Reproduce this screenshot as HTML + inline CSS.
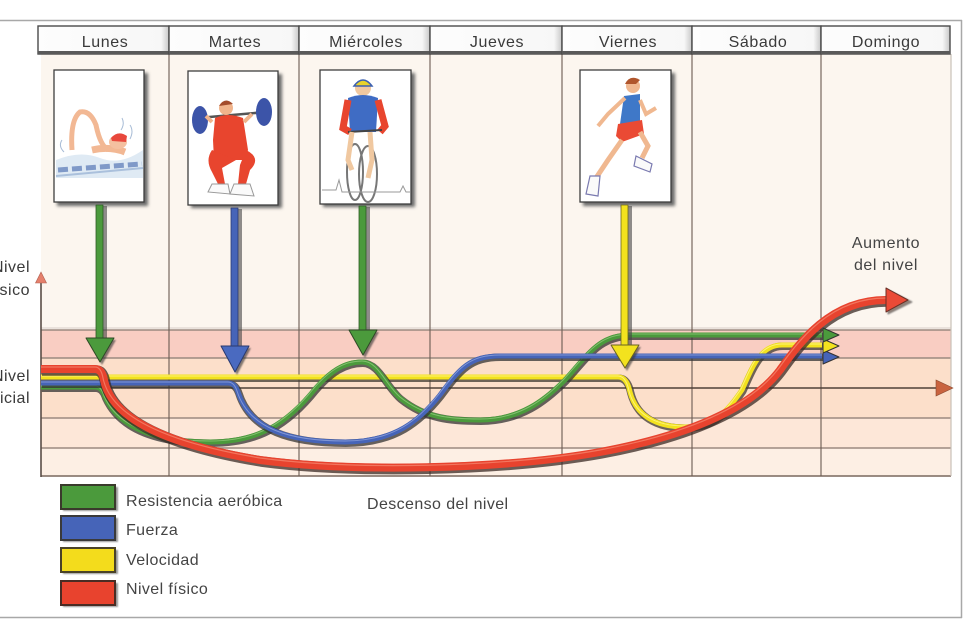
<!DOCTYPE html>
<html><head><meta charset="utf-8"><style>
html,body{margin:0;padding:0;background:#fff;}
svg{display:block;}
text{font-family:"Liberation Sans",sans-serif;}
</style></head><body>
<svg width="976" height="624" viewBox="0 0 976 624" xmlns="http://www.w3.org/2000/svg">
<defs>
<linearGradient id="hdr" x1="0" y1="0" x2="1" y2="0">
<stop offset="0" stop-color="#fdfdfd"/><stop offset="0.94" stop-color="#f7f7f7"/><stop offset="1" stop-color="#c8c8c8"/>
</linearGradient>
<filter id="blur" x="-20%" y="-20%" width="140%" height="140%"><feGaussianBlur stdDeviation="1.6"/></filter>
<filter id="blur1" x="-20%" y="-20%" width="140%" height="140%"><feGaussianBlur stdDeviation="0.8"/></filter>
</defs>

<!-- outer frame -->
<line x1="0" y1="20.5" x2="962" y2="20.5" stroke="#a8a8a8" stroke-width="1.5"/>
<line x1="961.5" y1="20" x2="961.5" y2="618" stroke="#a8a8a8" stroke-width="1.5"/>
<line x1="0" y1="617.5" x2="962" y2="617.5" stroke="#a8a8a8" stroke-width="1.5"/>

<!-- grid background -->
<rect x="41" y="54" width="910" height="276" fill="#fcf6ef"/>
<rect x="41" y="330" width="910" height="28" fill="#f9cdc2"/>
<rect x="41" y="358" width="910" height="60" fill="#fcdfca"/>
<rect x="41" y="418" width="910" height="30" fill="#fde7d8"/>
<rect x="41" y="448" width="910" height="28" fill="#fdefe4"/>

<!-- horizontal band lines -->
<g stroke="#9b8a80" stroke-width="1.4">
<line x1="41" y1="330" x2="951" y2="330"/>
<line x1="41" y1="358" x2="951" y2="358"/>
<line x1="41" y1="418" x2="951" y2="418"/>
<line x1="41" y1="448" x2="951" y2="448"/>
<line x1="41" y1="476" x2="951" y2="476" stroke="#8c7c72" stroke-width="1.8"/>
</g>
<line x1="41" y1="328" x2="951" y2="328" stroke="#d9cfc8" stroke-width="1"/>

<!-- vertical grid lines -->
<g stroke="#6b5b52" stroke-width="1.1">
<line x1="169" y1="54" x2="169" y2="476"/>
<line x1="299" y1="54" x2="299" y2="476"/>
<line x1="430" y1="54" x2="430" y2="476"/>
<line x1="562" y1="54" x2="562" y2="476"/>
<line x1="692" y1="54" x2="692" y2="476"/>
<line x1="821" y1="54" x2="821" y2="476"/>
</g>
<line x1="951" y1="54" x2="951" y2="476" stroke="#c9c0b8" stroke-width="1.2"/>

<!-- axes -->
<line x1="41" y1="280" x2="41" y2="477" stroke="#5a4d46" stroke-width="1.6"/>
<polygon points="41,272 35.5,283 46.5,283" fill="#e5806c" stroke="#b06050" stroke-width="0.6"/>
<line x1="41" y1="388" x2="938" y2="388" stroke="#4e4038" stroke-width="1.6"/>
<polygon points="953,388 936,380 936,396" fill="#c9633f" stroke="#8a4a30" stroke-width="0.6"/>

<!-- header cells -->
<g>
<g transform="translate(38,26)"><rect width="131" height="28" fill="url(#hdr)" stroke="#4a4a4a" stroke-width="1.4"/><rect y="25" width="131" height="3" fill="#5a5a5a"/></g>
<g transform="translate(169,26)"><rect width="130" height="28" fill="url(#hdr)" stroke="#4a4a4a" stroke-width="1.4"/><rect y="25" width="130" height="3" fill="#5a5a5a"/></g>
<g transform="translate(299,26)"><rect width="131" height="28" fill="url(#hdr)" stroke="#4a4a4a" stroke-width="1.4"/><rect y="25" width="131" height="3" fill="#5a5a5a"/></g>
<g transform="translate(430,26)"><rect width="132" height="28" fill="url(#hdr)" stroke="#4a4a4a" stroke-width="1.4"/><rect y="25" width="132" height="3" fill="#5a5a5a"/></g>
<g transform="translate(562,26)"><rect width="130" height="28" fill="url(#hdr)" stroke="#4a4a4a" stroke-width="1.4"/><rect y="25" width="130" height="3" fill="#5a5a5a"/></g>
<g transform="translate(692,26)"><rect width="129" height="28" fill="url(#hdr)" stroke="#4a4a4a" stroke-width="1.4"/><rect y="25" width="129" height="3" fill="#5a5a5a"/></g>
<g transform="translate(821,26)"><rect width="129" height="28" fill="url(#hdr)" stroke="#4a4a4a" stroke-width="1.4"/><rect y="25" width="129" height="3" fill="#5a5a5a"/></g>
</g>
<g font-size="16" fill="#3a3a3a" text-anchor="middle" letter-spacing="0.6">
<text x="105" y="47">Lunes</text>
<text x="235" y="47">Martes</text>
<text x="366" y="47">Miércoles</text>
<text x="497" y="47">Jueves</text>
<text x="628" y="47">Viernes</text>
<text x="758" y="47">Sábado</text>
<text x="886" y="47">Domingo</text>
</g>

<!-- cards -->
<g>
<rect x="57" y="73" width="91" height="133" fill="#6a6a6a" filter="url(#blur)"/>
<rect x="54" y="70" width="90" height="132" fill="#fff" stroke="#3e3e3e" stroke-width="1.3"/>
<rect x="191" y="74" width="91" height="134" fill="#6a6a6a" filter="url(#blur)"/>
<rect x="188" y="71" width="90" height="134" fill="#fff" stroke="#3e3e3e" stroke-width="1.3"/>
<rect x="323" y="73" width="92" height="134" fill="#6a6a6a" filter="url(#blur)"/>
<rect x="320" y="70" width="91" height="134" fill="#fff" stroke="#3e3e3e" stroke-width="1.3"/>
<rect x="583" y="73" width="92" height="133" fill="#6a6a6a" filter="url(#blur)"/>
<rect x="580" y="70" width="91" height="132" fill="#fff" stroke="#3e3e3e" stroke-width="1.3"/>
</g>

<!-- swimmer -->
<g>
<path d="M56,160 Q80,150 100,158 T143,150 L143,178 L56,178 Z" fill="#dfeaf4"/>
<path d="M58,170 L142,164" stroke="#7f99c8" stroke-width="5" stroke-dasharray="10,4"/>
<path d="M56,176 Q100,172 143,168" stroke="#aac0dc" stroke-width="2" fill="none"/>
<path d="M72,150 Q70,120 80,112 Q90,110 96,125 Q100,145 108,150" stroke="#f2b894" stroke-width="5" fill="none"/>
<path d="M92,150 Q110,146 125,152" stroke="#f2b894" stroke-width="7" fill="none"/>
<ellipse cx="118" cy="142" rx="9" ry="7" fill="#f4c0a0"/>
<path d="M111,138 Q118,130 127,136 L126,142 L112,141 Z" fill="#e8483c"/>
<g fill="none" stroke="#a8bcd6" stroke-width="1"><path d="M122,118 q3,6 -1,12"/><path d="M130,125 q4,6 0,14"/><path d="M62,140 q-4,6 2,12"/></g>
</g>

<!-- weightlifter -->
<g>
<line x1="198" y1="118" x2="266" y2="112" stroke="#555" stroke-width="2.5"/>
<ellipse cx="200" cy="120" rx="8" ry="14" fill="#3c54a8"/>
<ellipse cx="264" cy="112" rx="8" ry="14" fill="#3c54a8"/>
<circle cx="226" cy="108" r="7" fill="#f0b48c"/>
<path d="M219,106 Q225,96 233,104" fill="#a34c2c"/>
<path d="M215,118 Q228,112 243,118 L248,150 L245,160 L214,160 L213,140 Z" fill="#e8452e"/>
<path d="M212,150 Q205,160 212,172 L218,184 L225,184 L222,168 L236,160" fill="#e8452e"/>
<path d="M246,150 Q262,158 250,170 L246,184 L238,184 L240,165" fill="#e8452e"/>
<path d="M212,184 L228,184 L230,194 L208,192 Z" fill="#fafafa" stroke="#999" stroke-width="1"/>
<path d="M234,184 L250,184 L254,196 L230,194 Z" fill="#fafafa" stroke="#999" stroke-width="1"/>
<path d="M212,122 L206,116" stroke="#f0b48c" stroke-width="4"/>
<path d="M244,122 L252,114" stroke="#f0b48c" stroke-width="4"/>
</g>

<!-- cyclist -->
<g>
<ellipse cx="355" cy="172" rx="8" ry="28" fill="none" stroke="#777" stroke-width="2"/>
<ellipse cx="368" cy="174" rx="9" ry="28" fill="none" stroke="#777" stroke-width="2"/>
<path d="M322,190 L336,190 L339,180 L342,192 L400,192 L403,186 L406,192 L410,192" fill="none" stroke="#999" stroke-width="1"/>
<circle cx="363" cy="88" r="8" fill="#f0c8a0"/>
<path d="M354,86 Q363,74 372,86 Z" fill="#e8d22a" stroke="#3c60b0" stroke-width="1.5"/>
<path d="M348,98 Q363,92 378,98 L376,132 L350,132 Z" fill="#3f6cc4"/>
<path d="M348,100 L343,128 L350,132" fill="none" stroke="#e8452e" stroke-width="7"/>
<path d="M378,100 L385,126 L380,132" fill="none" stroke="#e8452e" stroke-width="7"/>
<line x1="348" y1="132" x2="382" y2="130" stroke="#444" stroke-width="2"/>
<path d="M352,132 L348,160 L352,170" stroke="#f0c8a0" stroke-width="5" fill="none"/>
<path d="M370,132 L372,160 L368,178" stroke="#f0c8a0" stroke-width="5" fill="none"/>
</g>

<!-- runner -->
<g>
<circle cx="633" cy="86" r="7" fill="#f0b890"/>
<path d="M625,84 Q630,74 640,80 L636,84 Z" fill="#b0562c"/>
<path d="M624,96 L640,94 L640,122 L620,124 Z" fill="#3f78c8"/>
<path d="M618,124 L642,120 L644,134 L622,142 L616,136 Z" fill="#ea4a34"/>
<path d="M625,98 L608,114 L598,126" stroke="#f0b890" stroke-width="4" fill="none"/>
<path d="M640,100 L646,114 L656,108" stroke="#f0b890" stroke-width="4" fill="none"/>
<path d="M640,132 L648,146 L642,158" stroke="#f0b890" stroke-width="5" fill="none"/>
<path d="M622,140 L608,160 L596,178" stroke="#f0b890" stroke-width="5" fill="none"/>
<path d="M636,156 L652,164 L650,172 L634,166 Z" fill="#fafafa" stroke="#7a7ab0" stroke-width="1.2"/>
<path d="M590,176 L600,176 L598,196 L586,194 Z" fill="#fafafa" stroke="#7a7ab0" stroke-width="1.2"/>
</g>

<!-- curves -->
<g fill="none" stroke-linecap="butt" stroke-linejoin="round">
<!-- yellow -->
<path d="M41,377 L618,377 Q627,377 630,392 C636,415 655,427 685,427 C715,427 728,410 742,390 C752,368 760,345 782,345 L822,345" stroke="#3f3a30" stroke-width="7.5" stroke-opacity="0.75" transform="translate(0.8,1.2)"/>
<path d="M41,377 L618,377 Q627,377 630,392 C636,415 655,427 685,427 C715,427 728,410 742,390 C752,368 760,345 782,345 L822,345" stroke="#f3e21e" stroke-width="5"/>
<path d="M41,376 L618,376 Q626,376 629,391 C635,414 655,426 685,426 C715,426 727,409 741,389 C751,367 759,344 782,344 L822,344" stroke="#fff8a0" stroke-width="1" stroke-opacity="0.7"/>
<!-- green -->
<path d="M41,387 L95,387 Q102,387 105,397 C120,430 160,442 210,442 C250,442 280,430 310,395 C330,370 345,362 362,362 C378,362 385,385 400,398 C425,418 450,420 480,420 C520,420 545,400 565,380 C590,352 600,335 630,335 L822,335" stroke="#333" stroke-width="7.5" stroke-opacity="0.75" transform="translate(0.8,1.2)"/>
<path d="M41,387 L95,387 Q102,387 105,397 C120,430 160,442 210,442 C250,442 280,430 310,395 C330,370 345,362 362,362 C378,362 385,385 400,398 C425,418 450,420 480,420 C520,420 545,400 565,380 C590,352 600,335 630,335 L822,335" stroke="#4b9a3c" stroke-width="5"/>
<path d="M41,386 L95,386 Q101,386 104,396 C119,429 160,441 210,441 C250,441 279,429 309,394 C329,369 345,361 362,361 C378,361 385,384 400,397 C425,417 450,419 480,419 C520,419 545,399 564,379 C589,351 600,334 630,334 L822,334" stroke="#a6d890" stroke-width="1" stroke-opacity="0.6"/>
<!-- blue -->
<path d="M41,383 L228,383 Q235,383 238,392 C250,430 290,442 345,442 C395,442 420,420 440,395 C460,368 470,356 500,356 L822,356" stroke="#333" stroke-width="7.5" stroke-opacity="0.75" transform="translate(0.8,1.2)"/>
<path d="M41,383 L228,383 Q235,383 238,392 C250,430 290,442 345,442 C395,442 420,420 440,395 C460,368 470,356 500,356 L822,356" stroke="#4664b8" stroke-width="5"/>
<path d="M41,382 L228,382 Q234,382 237,391 C249,429 290,441 345,441 C395,441 419,419 439,394 C459,367 470,355 500,355 L822,355" stroke="#a8b8e8" stroke-width="1" stroke-opacity="0.6"/>
<!-- red -->
<path d="M41,369 L95,369 Q102,369 104,380 C112,420 170,445 260,460 C350,472 500,470 600,452 C680,437 748,412 780,370 C800,342 830,300 886,300" stroke="#3a2a24" stroke-width="10.5" stroke-opacity="0.75" transform="translate(1,1.5)"/>
<path d="M41,369 L95,369 Q102,369 104,380 C112,420 170,445 260,460 C350,472 500,470 600,452 C680,437 748,412 780,370 C800,342 830,300 886,300" stroke="#e8432e" stroke-width="8"/>
<path d="M41,367 L95,367 Q101,367 103,378 C111,418 170,443 260,458 C350,470 500,468 600,450 C680,435 747,410 779,368 C799,340 830,298 886,298" stroke="#f89a80" stroke-width="1.2" stroke-opacity="0.6"/>
</g>

<!-- curve arrowheads -->
<g stroke="#333" stroke-width="1" stroke-linejoin="round">
<polygon points="823,350 839,357 823,364" fill="#4664b8"/>
<polygon points="823,339 839,346 823,353" fill="#f3e21e"/>
<polygon points="823,328 839,335 823,342" fill="#4b9a3c"/>
<polygon points="888,290 888,314 912,302" fill="#4a3028" opacity="0.6" filter="url(#blur1)"/>
<polygon points="886,288 886,312 908,300" fill="#ea4a36" stroke="#6a3026"/>
</g>

<!-- vertical arrows -->
<g stroke-linejoin="round">
<rect x="99" y="206" width="8" height="134" fill="#444" opacity="0.6"/>
<polygon points="88,340 116,340 102,365" fill="#333" opacity="0.6" filter="url(#blur1)"/>
<rect x="96" y="205" width="7" height="134" fill="#4b9a3c" stroke="#2e5a26" stroke-width="0.8"/>
<polygon points="86,338 114,338 100,362" fill="#4b9a3c" stroke="#2e4a26" stroke-width="1"/>

<rect x="234" y="209" width="8" height="139" fill="#444" opacity="0.6"/>
<polygon points="223,348 251,348 237,375" fill="#333" opacity="0.6" filter="url(#blur1)"/>
<rect x="231" y="208" width="7" height="139" fill="#4664b8" stroke="#2a3a70" stroke-width="0.8"/>
<polygon points="221,346 249,346 235,372" fill="#4a6ac0" stroke="#2a3a70" stroke-width="1"/>

<rect x="362" y="207" width="8" height="125" fill="#444" opacity="0.6"/>
<polygon points="351,332 379,332 365,358" fill="#333" opacity="0.6" filter="url(#blur1)"/>
<rect x="359" y="206" width="7" height="125" fill="#4b9a3c" stroke="#2e5a26" stroke-width="0.8"/>
<polygon points="349,330 377,330 363,355" fill="#4b9a3c" stroke="#2e4a26" stroke-width="1"/>

<rect x="624" y="206" width="8" height="141" fill="#444" opacity="0.6"/>
<polygon points="613,347 641,347 627,371" fill="#333" opacity="0.6" filter="url(#blur1)"/>
<rect x="621" y="205" width="7" height="141" fill="#f3e21e" stroke="#6a6420" stroke-width="0.8"/>
<polygon points="611,345 639,345 625,368" fill="#f3e21e" stroke="#6a6420" stroke-width="1"/>
</g>

<!-- side labels -->
<g font-size="16" fill="#3a3a3a" text-anchor="end" letter-spacing="0.5">
<text x="30" y="272">Nivel</text>
<text x="30" y="295">físico</text>
<text x="30" y="381">Nivel</text>
<text x="30" y="403">inicial</text>
</g>
<g font-size="16" fill="#444" text-anchor="middle" letter-spacing="0.6">
<text x="886" y="248">Aumento</text>
<text x="886" y="270">del nivel</text>
</g>
<text x="367" y="509" font-size="16" fill="#444" letter-spacing="0.4">Descenso del nivel</text>

<!-- legend -->
<g>
<rect x="63" y="487" width="55" height="24" fill="#555" opacity="0.6" filter="url(#blur1)"/>
<rect x="61" y="485" width="54" height="24" fill="#4b9a3c" stroke="#3a3a2c" stroke-width="2"/>
<rect x="63" y="518" width="55" height="24" fill="#555" opacity="0.6" filter="url(#blur1)"/>
<rect x="61" y="516" width="54" height="24" fill="#4664b8" stroke="#3a3a3a" stroke-width="2"/>
<rect x="63" y="550" width="55" height="24" fill="#555" opacity="0.6" filter="url(#blur1)"/>
<rect x="61" y="548" width="54" height="24" fill="#f3dc1c" stroke="#4a4228" stroke-width="2"/>
<rect x="63" y="583" width="55" height="24" fill="#555" opacity="0.6" filter="url(#blur1)"/>
<rect x="61" y="581" width="54" height="24" fill="#e8432e" stroke="#4a2c24" stroke-width="2"/>
</g>
<g font-size="16" fill="#444" letter-spacing="0.4">
<text x="126" y="506">Resistencia aeróbica</text>
<text x="126" y="535">Fuerza</text>
<text x="126" y="565">Velocidad</text>
<text x="126" y="594">Nivel físico</text>
</g>
</svg>
</body></html>
